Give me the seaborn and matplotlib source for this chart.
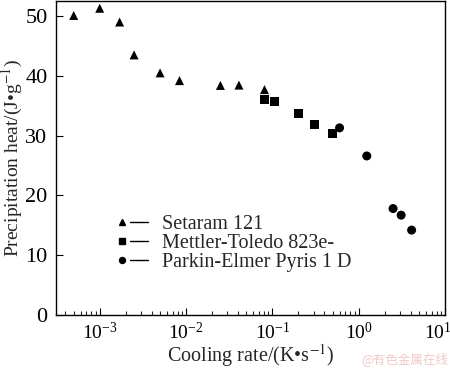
import numpy as np
import pandas as pd
import matplotlib
matplotlib.use("Agg")
import matplotlib.pyplot as plt
import matplotlib.transforms as mtransforms
import seaborn as sns
from matplotlib.lines import Line2D
from matplotlib.legend_handler import HandlerBase

# data
setaram_rate = [5.0e-4, 1.0e-3, 1.7e-3, 2.5e-3, 5.0e-3, 8.4e-3, 0.025, 0.041, 0.081]
setaram_heat = [50.1, 51.3, 49.0, 43.5, 40.5, 39.2, 38.4, 38.45, 37.7]
mettler_rate = [0.081, 0.105, 0.20, 0.31, 0.50]
mettler_heat = [36.0, 35.7, 33.7, 31.9, 30.3]
parkin_rate = [0.60, 1.24, 2.5, 3.1, 4.1]
parkin_heat = [31.3, 26.6, 17.8, 16.7, 14.2]

labels = ["Setaram 121", "Mettler-Toledo 823e-", "Parkin-Elmer Pyris 1 D"]
markers = ["^", "s", "o"]
xticks = [1e-3, 1e-2, 1e-1, 1e0, 1e1]

df = pd.concat([
    pd.DataFrame({"rate": setaram_rate, "heat": setaram_heat, "dev": labels[0]}),
    pd.DataFrame({"rate": mettler_rate, "heat": mettler_heat, "dev": labels[1]}),
    pd.DataFrame({"rate": parkin_rate, "heat": parkin_heat, "dev": labels[2]}),
])


class MarkerDash(HandlerBase):
    # marker on the left, short dash on the right
    def create_artists(self, legend, orig, xdescent, ydescent, width, height, fontsize, trans):
        y = height / 2 - ydescent
        mk = Line2D([width * 0.18 - xdescent], [y], marker=orig.get_marker(), color="black",
                    linestyle="none", markersize=orig.get_markersize(), transform=trans)
        ln = Line2D([width * 0.45 - xdescent, width - xdescent], [y, y], color="black",
                    linewidth=1.0, transform=trans)
        return [mk, ln]


sns.set_style("ticks")
plt.rcParams["font.family"] = ["Liberation Serif", "DejaVu Serif"]
plt.rcParams["mathtext.fontset"] = "stix"

fig = plt.figure(figsize=(4.5, 3.68), dpi=100)
ax = fig.add_axes([0.124, 0.144, 0.865, 0.853])

sns.scatterplot(data=df, x="rate", y="heat", style="dev", markers=dict(zip(labels, markers)),
                color="black", s=42, edgecolor="none", legend=False, ax=ax)

ax.set_xscale("log")
ax.set_xlim(3.1e-4, 10)
ax.set_ylim(0, 52.5)
ax.set_xticks(xticks)
ax.set_yticks([0, 10, 20, 30, 40, 50])
ax.tick_params(axis="both", which="major", direction="in", length=5, width=0.8,
               colors="black", pad=5)
ax.tick_params(axis="x", which="major", labelsize=14)
ax.tick_params(axis="y", which="major", labelsize=16, pad=6)
ax.tick_params(axis="x", which="minor", direction="in", length=3, width=0.8)
ax.tick_params(axis="y", which="minor", left=False)
for s in ax.spines.values():
    s.set_linewidth(1.0)
    s.set_color("black")

# pull the 10^1 label slightly inside the figure, as in the original
last = ax.xaxis.get_major_ticks()[-1].label1
last.set_transform(last.get_transform() +
                   mtransforms.ScaledTranslation(-7 / 100, 0, fig.dpi_scale_trans))

ax.set_xlabel("Cooling rate/(K\u2022s$^{-1}$)", fontsize=14.5, labelpad=-1)
ax.set_ylabel("Precipitation heat/(J\u2022g$^{-1}$)", fontsize=14, labelpad=0)

handles = [Line2D([], [], marker=m, color="black", linestyle="none", markersize=4.3)
           for m in markers]
ax.legend(handles, labels, handler_map={Line2D: MarkerDash()},
          loc="upper left", bbox_to_anchor=(0.154, 0.318), frameon=False, fontsize=14.5,
          handlelength=1.6, handletextpad=0.7, labelspacing=0.0, borderpad=0,
          borderaxespad=0)

fig.text(0.995, 0.005, "@有色金属在线", ha="right", va="bottom", fontsize=9,
         color="#f0c8c8", family=["Noto Sans CJK SC", "DejaVu Sans"])

fig.savefig("out.png", dpi=100)
